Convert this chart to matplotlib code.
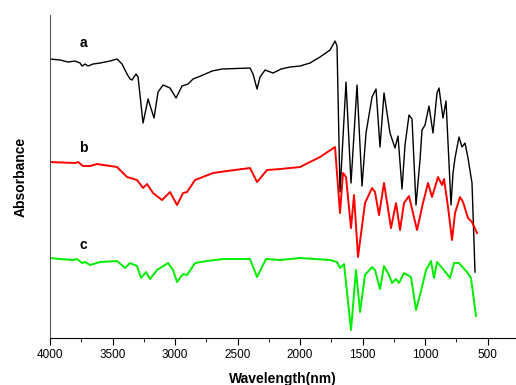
import numpy as np
import matplotlib
matplotlib.use("Agg")
import matplotlib.pyplot as plt
from matplotlib.ticker import MultipleLocator

plt.rcParams["font.family"] = ["Liberation Sans", "DejaVu Sans"]

# IR spectra (wavenumber, absorbance in arbitrary offset units)
wn_a = [4000, 3920, 3856, 3800, 3760, 3744, 3720, 3696, 3656, 3600, 3520, 3464, 3424, 3384,
        3360, 3344, 3312, 3296, 3256, 3216, 3168, 3136, 3096, 3040, 2992, 2944, 2896, 2856,
        2816, 2776, 2704, 2624, 2400, 2376, 2344, 2320, 2280, 2216, 2152, 2080, 2000, 1920,
        1840, 1760, 1720, 1704, 1680, 1632, 1592, 1544, 1504, 1472, 1424, 1392, 1360, 1328,
        1280, 1240, 1216, 1184, 1160, 1128, 1104, 1072, 1040, 1024, 1000, 968, 936, 904, 888,
        856, 832, 792, 776, 760, 728, 704, 680, 656, 624, 600]
abs_a = [2.79, 2.78, 2.76, 2.77, 2.75, 2.72, 2.74, 2.72, 2.74, 2.75, 2.77, 2.79, 2.74, 2.64,
         2.59, 2.58, 2.64, 2.61, 2.15, 2.39, 2.20, 2.46, 2.53, 2.50, 2.40, 2.52, 2.54, 2.59,
         2.61, 2.63, 2.67, 2.69, 2.70, 2.64, 2.49, 2.61, 2.68, 2.65, 2.69, 2.71, 2.72, 2.75,
         2.81, 2.88, 2.97, 2.92, 1.46, 2.56, 1.55, 2.53, 1.52, 2.05, 2.41, 2.49, 1.91, 2.45,
         2.05, 1.90, 2.02, 1.49, 1.93, 2.23, 2.19, 1.33, 1.78, 2.08, 2.13, 2.32, 2.05, 2.45, 2.50,
         2.20, 2.37, 1.33, 1.65, 1.80, 2.01, 1.91, 1.95, 1.80, 1.55, 0.66]

wn_b = [4000, 3800, 3776, 3736, 3680, 3624, 3464, 3384, 3304, 3256, 3224, 3176, 3104, 3040,
        2984, 2936, 2904, 2840, 2696, 2584, 2400, 2344, 2264, 2160, 2000, 1840, 1720, 1680,
        1656, 1632, 1592, 1568, 1536, 1480, 1424, 1400, 1368, 1328, 1272, 1232, 1200, 1168,
        1128, 1064, 1016, 976, 944, 896, 864, 848, 816, 784, 760, 720, 696, 656, 624, 584]
abs_b = [1.76, 1.75, 1.76, 1.72, 1.72, 1.74, 1.71, 1.61, 1.58, 1.50, 1.54, 1.45, 1.38, 1.46,
         1.33, 1.45, 1.46, 1.58, 1.65, 1.67, 1.70, 1.56, 1.68, 1.69, 1.71, 1.81, 1.91, 1.25,
         1.65, 1.61, 1.10, 1.43, 0.81, 1.35, 1.50, 1.46, 1.23, 1.55, 1.10, 1.35, 1.08, 1.35,
         1.42, 1.08, 1.35, 1.55, 1.41, 1.61, 1.53, 1.59, 1.31, 0.98, 1.25, 1.41, 1.36, 1.20,
         1.16, 1.05]

wn_c = [4000, 3920, 3816, 3784, 3744, 3720, 3680, 3600, 3464, 3400, 3360, 3304, 3272, 3232,
        3200, 3144, 3056, 3016, 2984, 2936, 2904, 2840, 2744, 2616, 2400, 2344, 2272, 2160,
        2000, 1760, 1704, 1680, 1648, 1592, 1552, 1520, 1480, 1424, 1400, 1360, 1328, 1288,
        1264, 1232, 1208, 1168, 1112, 1072, 1032, 992, 952, 928, 904, 856, 824, 800, 768,
        728, 664, 632, 592]
abs_c = [0.80, 0.79, 0.78, 0.79, 0.75, 0.76, 0.73, 0.76, 0.77, 0.70, 0.75, 0.72, 0.60, 0.66,
         0.59, 0.68, 0.75, 0.68, 0.56, 0.64, 0.63, 0.75, 0.77, 0.79, 0.79, 0.61, 0.79, 0.78,
         0.80, 0.78, 0.76, 0.70, 0.74, 0.08, 0.68, 0.26, 0.63, 0.71, 0.68, 0.49, 0.72, 0.63,
         0.55, 0.59, 0.55, 0.65, 0.61, 0.28, 0.47, 0.68, 0.77, 0.60, 0.76, 0.69, 0.64, 0.60,
         0.75, 0.75, 0.66, 0.60, 0.22]

labels = ["a", "b", "c"]
label_y = [2.95, 1.90, 0.93]

fig = plt.figure(figsize=(5.16, 3.85), dpi=100)
ax = fig.add_axes([0.097, 0.122, 0.903, 0.839])

ax.plot(wn_a, abs_a, color="black", lw=1.0)
ax.plot(wn_b, abs_b, color="#ff0000", lw=1.4)
ax.plot(wn_c, abs_c, color="#00ee00", lw=1.4)

for lab, yy in zip(labels, label_y):
    ax.text(3736, yy, lab, fontsize=10, fontweight="bold", ha="center", va="center")

ax.set_xlim(4000, 272)
ax.set_ylim(0, 3.23)
ax.xaxis.set_major_locator(MultipleLocator(500))
ax.xaxis.set_minor_locator(MultipleLocator(250))
ax.tick_params(axis="x", which="major", direction="out", length=5, labelsize=8.5, pad=3)
ax.tick_params(axis="x", which="minor", direction="out", length=3)
ax.set_yticks([])
ax.spines["top"].set_visible(False)
ax.spines["right"].set_visible(False)
ax.spines["left"].set_color("#555555")

ax.set_xlabel("Wavelength(nm)", fontsize=10, fontweight="bold", labelpad=8)
ax.set_ylabel("Absorbance", fontsize=10, fontweight="bold", labelpad=16)

fig.savefig("out.png", dpi=100)
